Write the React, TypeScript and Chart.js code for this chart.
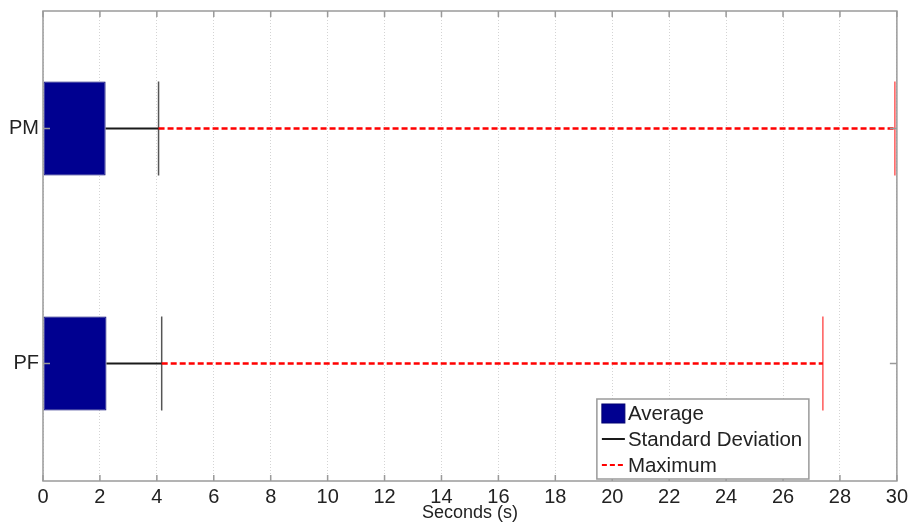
import React, { useEffect, useRef } from "react";
import { Chart, registerables } from "chart.js";

Chart.register(...registerables);

// ---- data ----
const categories = ["PF", "PM"]; // bottom to top
const categoryPos = [1, 2];
const averages = [2.23, 2.2];
const stdDevs = [1.94, 1.86];
const maximums = [27.4, 29.93];
const xTicks = [0, 2, 4, 6, 8, 10, 12, 14, 16, 18, 20, 22, 24, 26, 28, 30];
const legendLabels = ["Average", "Standard Deviation", "Maximum"];
const xTitle = "Seconds (s)";

const NAVY = "#000090";
const FONT = "'Liberation Sans', Arial, Helvetica, sans-serif";
const TEXT = "#222222";
const BOX = "#9a9a9a";
const CAP_HALF = 0.2;

export default function App() {
  const ref = useRef<HTMLCanvasElement | null>(null);

  useEffect(() => {
    if (!ref.current) return;
    const sdEnds = averages.map((a, i) => a + stdDevs[i]);

    const datasets: any[] = [
      {
        type: "bar",
        label: legendLabels[0],
        data: categoryPos.map((p, i) => ({ x: averages[i], y: p })),
        backgroundColor: NAVY,
        borderColor: "#000070",
        borderWidth: 1,
        borderSkipped: false,
        barPercentage: 0.4,
        categoryPercentage: 1,
        order: 5,
      },
    ];
    categoryPos.forEach((p, i) => {
      datasets.push({
        type: "line",
        label: legendLabels[1],
        data: [
          { x: averages[i], y: p },
          { x: sdEnds[i], y: p },
        ],
        borderColor: "#1a1a1a",
        borderWidth: 2,
        pointRadius: 0,
        order: 2,
      });
      datasets.push({
        type: "line",
        label: legendLabels[1],
        data: [
          { x: sdEnds[i], y: p - CAP_HALF },
          { x: sdEnds[i], y: p + CAP_HALF },
        ],
        borderColor: "#555555",
        borderWidth: 1.5,
        pointRadius: 0,
        order: 2,
      });
      datasets.push({
        type: "line",
        label: legendLabels[2],
        data: [
          { x: sdEnds[i], y: p },
          { x: maximums[i], y: p },
        ],
        borderColor: "#ff0000",
        borderWidth: 2.5,
        borderDash: [6, 3],
        pointRadius: 0,
        order: 1,
      });
      datasets.push({
        type: "line",
        label: legendLabels[2],
        data: [
          { x: maximums[i], y: p - CAP_HALF },
          { x: maximums[i], y: p + CAP_HALF },
        ],
        borderColor: "rgba(255,60,60,0.85)",
        borderWidth: 1.5,
        pointRadius: 0,
        order: 1,
      });
    });

    const boxPlugin = {
      id: "boxAndLegend",
      afterDraw(chart: any) {
        const ctx = chart.ctx;
        const { left, right, top, bottom } = chart.chartArea;
        const xs = chart.scales.x;
        const ys = chart.scales.y;
        ctx.save();
        ctx.strokeStyle = BOX;
        ctx.lineWidth = 1.5;
        ctx.setLineDash([]);
        ctx.strokeRect(left, top, right - left, bottom - top);
        ctx.beginPath();
        xTicks.forEach((v) => {
          const px = xs.getPixelForValue(v);
          ctx.moveTo(px, bottom);
          ctx.lineTo(px, bottom - 6);
          ctx.moveTo(px, top);
          ctx.lineTo(px, top + 6);
        });
        categoryPos.forEach((v) => {
          const py = ys.getPixelForValue(v);
          ctx.moveTo(left, py);
          ctx.lineTo(left + 7, py);
          ctx.moveTo(right, py);
          ctx.lineTo(right - 7, py);
        });
        ctx.stroke();

        // legend
        const lx = right - 300;
        const ly = bottom - 82;
        const lw = 212;
        const lh = 80;
        ctx.fillStyle = "#ffffff";
        ctx.fillRect(lx, ly, lw, lh);
        ctx.strokeStyle = BOX;
        ctx.lineWidth = 1.5;
        ctx.strokeRect(lx, ly, lw, lh);
        const rowY = [ly + 14, ly + 40, ly + 66];
        const sx0 = lx + 5;
        const sx1 = lx + 28;
        ctx.fillStyle = NAVY;
        ctx.fillRect(sx0, rowY[0] - 9, sx1 - sx0, 19);
        ctx.strokeStyle = "#000070";
        ctx.lineWidth = 1;
        ctx.strokeRect(sx0, rowY[0] - 9, sx1 - sx0, 19);
        ctx.strokeStyle = "#1a1a1a";
        ctx.lineWidth = 2;
        ctx.beginPath();
        ctx.moveTo(sx0, rowY[1]);
        ctx.lineTo(sx1, rowY[1]);
        ctx.stroke();
        ctx.strokeStyle = "#ff0000";
        ctx.lineWidth = 2;
        ctx.setLineDash([5, 3]);
        ctx.beginPath();
        ctx.moveTo(sx0, rowY[2]);
        ctx.lineTo(sx1, rowY[2]);
        ctx.stroke();
        ctx.setLineDash([]);
        ctx.fillStyle = TEXT;
        ctx.font = `20.5px ${FONT}`;
        ctx.textBaseline = "middle";
        ctx.textAlign = "left";
        legendLabels.forEach((t, i) => ctx.fillText(t, sx1 + 3, rowY[i] + 1));
        ctx.restore();
      },
    };

    const chart = new Chart(ref.current, {
      type: "bar",
      data: { datasets },
      options: {
        animation: false,
        responsive: false,
        indexAxis: "y",
        layout: { padding: { top: 11, right: 15, bottom: 0, left: 0 } },
        plugins: {
          legend: { display: false },
          tooltip: { enabled: false },
        },
        scales: {
          x: {
            type: "linear",
            position: "bottom",
            min: 0,
            max: 30,
            offset: false,
            afterBuildTicks: (s: any) => {
              s.ticks = xTicks.map((v) => ({ value: v }));
            },
            afterFit: (s: any) => {
              s.height = 44;
            },
            ticks: {
              font: { size: 20, family: FONT },
              color: TEXT,
              padding: 4,
              maxRotation: 0,
              autoSkip: false,
            },
            grid: {
              color: "#d4d4d4",
              lineWidth: 1,
              drawTicks: false,
            },
            border: { display: false, dash: [1, 2] },
            title: {
              display: true,
              text: xTitle,
              font: { size: 18, family: FONT },
              color: TEXT,
              padding: { top: 0, bottom: 1 },
            },
          },
          y: {
            type: "linear",
            min: 0.5,
            max: 2.5,
            offset: false,
            afterBuildTicks: (s: any) => {
              s.ticks = categoryPos.map((v) => ({ value: v }));
            },
            afterFit: (s: any) => {
              s.width = 43;
              s.paddingTop = 0;
              s.paddingBottom = 0;
            },
            ticks: {
              font: { size: 20, family: FONT },
              color: TEXT,
              padding: 4,
              callback: (v: any) => {
                const i = categoryPos.indexOf(Number(v));
                return i >= 0 ? categories[i] : "";
              },
            },
            grid: { display: false, drawTicks: false },
            border: { display: false },
          },
        },
      } as any,
      plugins: [boxPlugin],
    });
    return () => chart.destroy();
  }, []);

  return (
    <div style={{ position: "absolute", left: 0, top: 0, width: 912, height: 525, background: "#fff" }}>
      <canvas ref={ref} width={912} height={525} style={{ display: "block" }} />
    </div>
  );
}
